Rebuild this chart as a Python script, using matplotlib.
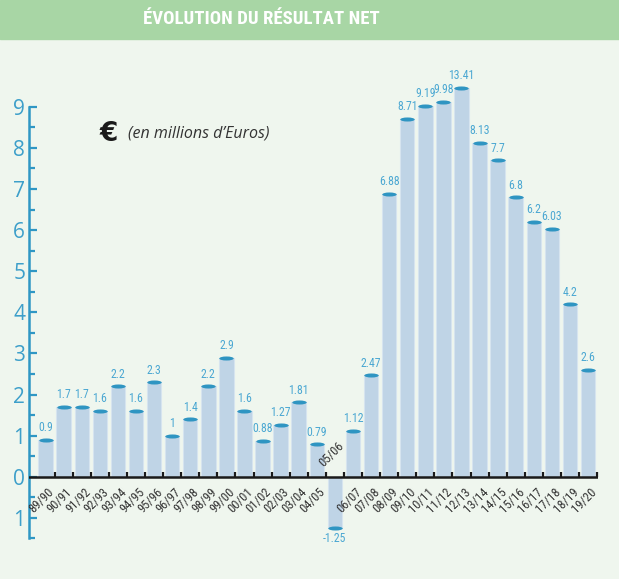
import matplotlib
matplotlib.use("Agg")
import matplotlib.pyplot as plt
import numpy as np
from matplotlib.patches import Rectangle
from matplotlib.path import Path

SEASONS = ["89/90", "90/91", "91/92", "92/93", "93/94", "94/95", "95/96", "96/97",
           "97/98", "98/99", "99/00", "00/01", "01/02", "02/03", "03/04", "04/05",
           "05/06", "06/07", "07/08", "08/09", "09/10", "10/11", "11/12", "12/13",
           "13/14", "14/15", "15/16", "16/17", "17/18", "18/19", "19/20"]
RESULT = [0.9, 1.7, 1.7, 1.6, 2.2, 1.6, 2.3, 1, 1.4, 2.2, 2.9, 1.6, 0.88, 1.27,
          1.81, 0.79, -1.25, 1.12, 2.47, 6.88, 8.71, 9.19, 9.98, 13.41, 8.13, 7.7,
          6.8, 6.2, 6.03, 4.2, 2.6]

TITLE = "ÉVOLUTION DU RÉSULTAT NET"
UNIT = "(en millions d’Euros)"

BG = "#eff6ee"
BANNER = "#a8d6a5"
BAR = "#bfd4e6"
CAP = "#2f95c2"
AXIS_BLUE = "#2f97c4"
LABEL_BLUE = "#4aa7d2"
NARROW = ["Roboto Condensed", "Liberation Sans Narrow", "DejaVu Sans"]

# axis is linear up to 9, values above are squeezed into the headroom
TOP = 9.0


def fwd(y):
    y = np.asarray(y, dtype=float)
    ex = np.clip(y - TOP, 0, None)
    return np.where(y > TOP, TOP + 0.13 * ex ** 0.85, y)


def inv(t):
    t = np.asarray(t, dtype=float)
    ex = np.clip(t - TOP, 0, None)
    return np.where(t > TOP, TOP + (ex / 0.13) ** (1 / 0.85), t)


fig = plt.figure(figsize=(6.19, 5.79), dpi=100, facecolor=BG)
fig.patches.append(Rectangle((0, 1 - 39 / 579), 1, 39 / 579, transform=fig.transFigure,
                             color=BANNER, zorder=0))
fig.text(261 / 619, 1 - 19.5 / 579, TITLE, ha="center", va="center", color="white",
         fontsize=13.5, fontweight="bold", family=NARROW, fontstretch="condensed")

ax = fig.add_axes([29.3 / 619, 1 - 538.4 / 579, (598 - 29.3) / 619, (538.4 - 65.7) / 579])
ax.set_facecolor("none")
ax.set_yscale("function", functions=(fwd, inv))
ax.set_xlim(-0.9, 30.55)
ax.set_ylim(-1.5, float(inv(10.0)))

x = np.arange(len(SEASONS))
vals = np.array(RESULT)
ax.bar(x, vals, width=0.8, color=BAR, edgecolor="#d6e4ef", linewidth=0.8, zorder=2)

# ellipse caps at the end of each bar
circ = Path.unit_circle()
cap_path = Path(circ.vertices * [1, 0.28], circ.codes)
ax.scatter(x, vals, marker=cap_path, s=10.4 ** 2, color=CAP, linewidths=0, zorder=3)

ax.axhline(0, color="#1a1a1a", lw=1.8, zorder=4)
ax.plot(np.arange(len(SEASONS)) + 0.5, np.zeros(len(SEASONS)), ls="none", marker=2,
        markersize=3.5, mew=1.6, color="#1a1a1a", zorder=4, clip_on=False)

for xi, v, lab in zip(x, vals, SEASONS):
    if v >= 0:
        ax.annotate(f"{v:g}", (xi, v), xytext=(0, 4), textcoords="offset points",
                    ha="center", va="bottom", fontsize=8.5, color=LABEL_BLUE,
                    family=NARROW, fontstretch="condensed", zorder=5)
        ax.annotate(lab, (xi, 0), xytext=(1.5, -6.5), textcoords="offset points",
                    ha="right", va="top", rotation=45, rotation_mode="anchor",
                    fontsize=9, color="#333333", family=NARROW,
                    fontstretch="condensed")
    else:
        ax.annotate(f"{v:g}", (xi, v), xytext=(0, -3), textcoords="offset points",
                    ha="center", va="top", fontsize=8.5, color=LABEL_BLUE,
                    family=NARROW, fontstretch="condensed", zorder=5)
        ax.annotate(lab, (xi, 0), xytext=(-7, 5), textcoords="offset points",
                    ha="left", va="bottom", rotation=45, rotation_mode="anchor",
                    fontsize=9, color="#333333", family=NARROW,
                    fontstretch="condensed")

for s in ["top", "right", "bottom"]:
    ax.spines[s].set_visible(False)
ax.spines["left"].set_color(AXIS_BLUE)
ax.spines["left"].set_linewidth(1.8)
ax.spines["left"].set_bounds(-1.5, 9)
ax.set_xticks([])
ax.set_yticks(range(-1, 10))
ax.set_yticklabels([str(abs(t)) for t in range(-1, 10)])
ax.set_yticks(np.arange(-1.5, 9, 0.5), minor=True)
ax.tick_params(axis="y", which="major", direction="in", length=5.5, width=1.6,
               color=AXIS_BLUE, labelcolor="#3d9fca", labelsize=15, pad=3)
ax.tick_params(axis="y", which="minor", direction="in", length=4, width=1.6,
               color=AXIS_BLUE)
for t in ax.get_yticklabels():
    t.set_family(["Open Sans", "DejaVu Sans"])

fig.text(100 / 619, 1 - 134 / 579, "€", ha="left", va="center", fontsize=19,
         fontweight="bold", color="#1a1a1a")
fig.text(128 / 619, 1 - 134 / 579, UNIT, ha="left", va="center", fontsize=11.5,
         fontstyle="italic", color="#333333", family=["Open Sans", "DejaVu Sans"])

fig.savefig("out.png", dpi=100, facecolor=BG)
